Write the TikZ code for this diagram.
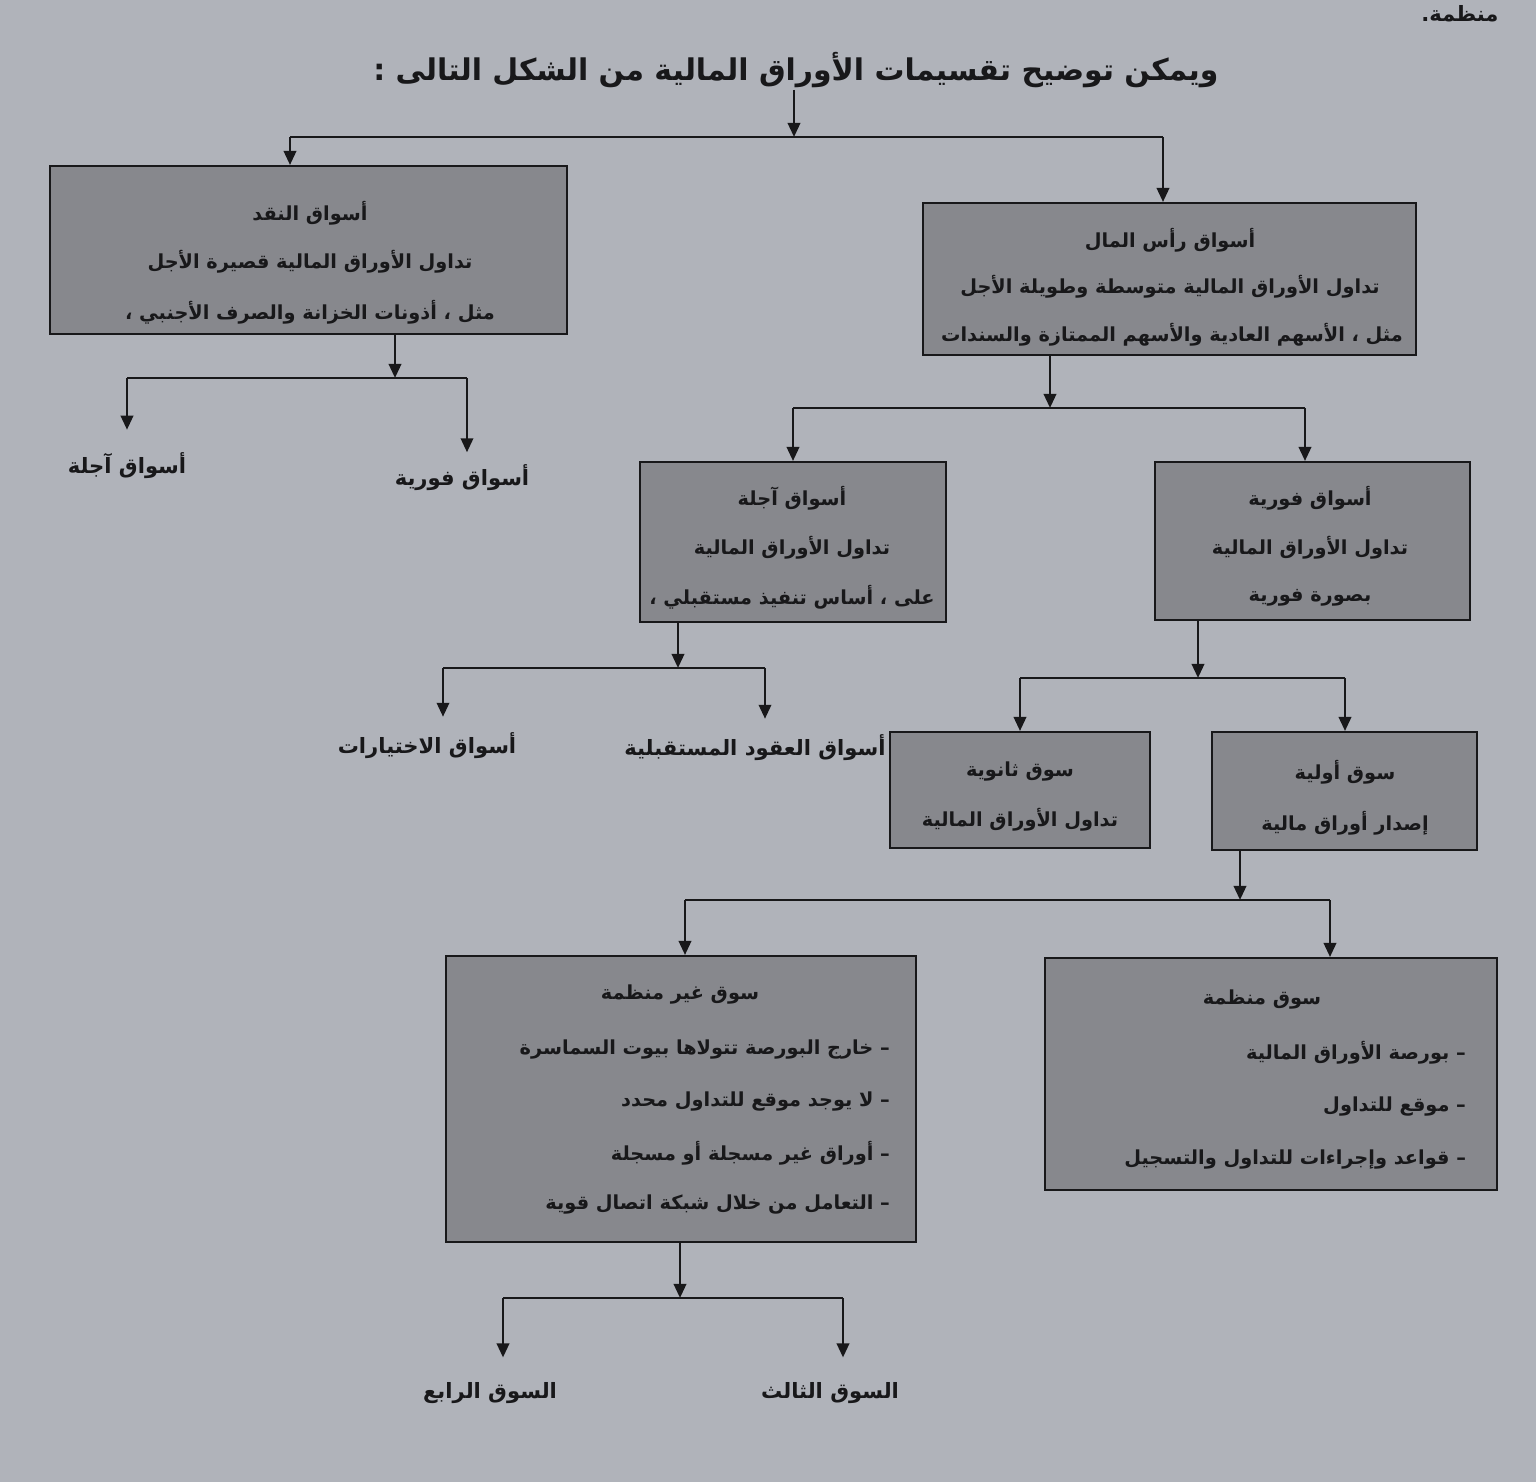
\documentclass[tikz,border=0pt]{standalone}
\usepackage{fontspec}
\usetikzlibrary{arrows.meta,fit}
\TeXXeTstate=1
\newfontfamily\arabicfont[Script=Arabic]{DejaVu Sans}
\newcommand{\rl}[1]{\beginR #1\endR}
\definecolor{pagebg}{RGB}{176,179,186}
\definecolor{boxgrey}{RGB}{135,136,141}
\definecolor{ink}{RGB}{24,24,26}
\begin{document}
\begin{tikzpicture}[x=0.02cm,y=-0.02cm,
  box/.style={draw=ink, line width=1.1pt, fill=boxgrey, inner sep=0pt},
  conn/.style={draw=ink, line width=1.5pt},
  arr/.style={conn, -{Triangle[length=8pt,width=7pt]}},
  txt/.style={font=\arabicfont\bfseries\fontsize{11}{13}\selectfont, text=ink, inner sep=1pt},
  lbl/.style={font=\arabicfont\bfseries\fontsize{12}{14}\selectfont, text=ink, inner sep=1pt},
  ttl/.style={font=\arabicfont\bfseries\fontsize{17}{20}\selectfont, text=ink, inner sep=1pt}]
\fill[pagebg] (0,0) rectangle (1536,1482);
\useasboundingbox (0,0) rectangle (1536,1482);

% stray text at top
\node[lbl] (prev) at (1460,14) {\rl{منظمة.}};
% title
\node[ttl] (title) at (796,70) {\rl{ويمكن توضيح تقسيمات الأوراق المالية من الشكل التالى :}};

% boxes
\node[box, fit={(50,166) (567,334)}] (money) {};
\node[box, fit={(923,203) (1416,355)}] (capital) {};
\node[box, fit={(640,462) (946,622)}] (fut) {};
\node[box, fit={(1155,462) (1470,620)}] (spot) {};
\node[box, fit={(890,732) (1150,848)}] (second) {};
\node[box, fit={(1212,732) (1477,850)}] (primary) {};
\node[box, fit={(446,956) (916,1242)}] (unorg) {};
\node[box, fit={(1045,958) (1497,1190)}] (org) {};

% box texts
\node[txt] (m1) at (310,213) {\rl{أسواق النقد}};
\node[txt] (m2) at (310,262) {\rl{تداول الأوراق المالية قصيرة الأجل}};
\node[txt] (m3) at (310,312) {\rl{مثل ، أذونات الخزانة والصرف الأجنبي ،}};

\node[txt] (c1) at (1170,240) {\rl{أسواق رأس المال}};
\node[txt] (c2) at (1170,287) {\rl{تداول الأوراق المالية متوسطة وطويلة الأجل}};
\node[txt] (c3) at (1172,335) {\rl{مثل ، الأسهم العادية والأسهم الممتازة والسندات}};

\node[txt] (f1) at (792,498) {\rl{أسواق آجلة}};
\node[txt] (f2) at (792,548) {\rl{تداول الأوراق المالية}};
\node[txt] (f3) at (792,597) {\rl{على ، أساس تنفيذ مستقبلي ،}};

\node[txt] (s1) at (1310,498) {\rl{أسواق فورية}};
\node[txt] (s2) at (1310,548) {\rl{تداول الأوراق المالية}};
\node[txt] (s3) at (1310,598) {\rl{بصورة فورية}};

\node[txt] (se1) at (1020,772) {\rl{سوق ثانوية}};
\node[txt] (se2) at (1020,820) {\rl{تداول الأوراق المالية}};

\node[txt] (p1) at (1345,772) {\rl{سوق أولية}};
\node[txt] (p2) at (1345,823) {\rl{إصدار أوراق مالية}};

\node[txt] (o0) at (1262,1000) {\rl{سوق منظمة}};
\node[txt, anchor=east] (o1) at (1468,1053) {\rl{– بورصة الأوراق المالية}};
\node[txt, anchor=east] (o2) at (1468,1107) {\rl{– موقع للتداول}};
\node[txt, anchor=east] (o3) at (1468,1160) {\rl{– قواعد وإجراءات للتداول والتسجيل}};

\node[txt] (u0) at (680,995) {\rl{سوق غير منظمة}};
\node[txt, anchor=east] (u1) at (892,1050) {\rl{– خارج البورصة تتولاها بيوت السماسرة}};
\node[txt, anchor=east] (u2) at (892,1102) {\rl{– لا يوجد موقع للتداول محدد}};
\node[txt, anchor=east] (u3) at (892,1153) {\rl{– أوراق غير مسجلة أو مسجلة}};
\node[txt, anchor=east] (u4) at (892,1205) {\rl{– التعامل من خلال شبكة اتصال قوية}};

% leaf labels
\node[lbl] (mfut) at (127,466) {\rl{أسواق آجلة}};
\node[lbl] (mspot) at (462,478) {\rl{أسواق فورية}};
\node[lbl] (opt) at (427,746) {\rl{أسواق الاختيارات}};
\node[lbl] (futc) at (755,748) {\rl{أسواق العقود المستقبلية}};
\node[lbl] (fourth) at (490,1393) {\rl{السوق الرابع}};
\node[lbl] (third) at (830,1393) {\rl{السوق الثالث}};

% junction coordinates
\coordinate (j0) at (794,137);
\coordinate (j0l) at (290,137);
\coordinate (j0r) at (1163,137);
\coordinate (j1) at (395,378);
\coordinate (j1l) at (127,378);
\coordinate (j1r) at (467,378);
\coordinate (j2) at (1050,408);
\coordinate (j2l) at (793,408);
\coordinate (j2r) at (1305,408);
\coordinate (j3) at (678,668);
\coordinate (j3l) at (443,668);
\coordinate (j3r) at (765,668);
\coordinate (j4) at (1198,678);
\coordinate (j4l) at (1020,678);
\coordinate (j4r) at (1345,678);
\coordinate (j5) at (1240,900);
\coordinate (j5l) at (685,900);
\coordinate (j5r) at (1330,900);
\coordinate (j6) at (680,1298);
\coordinate (j6l) at (503,1298);
\coordinate (j6r) at (843,1298);

% connectors
\draw[arr] (title.south -| j0) -- (j0);
\draw[conn] (j0l) -- (j0r);
\draw[arr] (j0l) -- (j0l |- money.north);
\draw[arr] (j0r) -- (j0r |- capital.north);

\draw[arr] (money.south -| j1) -- (j1);
\draw[conn] (j1l) -- (j1r);
\draw[arr] (j1l) -- ([yshift=12pt]mfut.north -| j1l);
\draw[arr] (j1r) -- ([yshift=6pt]mspot.north -| j1r);

\draw[arr] (capital.south -| j2) -- (j2);
\draw[conn] (j2l) -- (j2r);
\draw[arr] (j2l) -- (j2l |- fut.north);
\draw[arr] (j2r) -- (j2r |- spot.north);

\draw[arr] (fut.south -| j3) -- (j3);
\draw[conn] (j3l) -- (j3r);
\draw[arr] (j3l) -- ([yshift=8pt]opt.north -| j3l);
\draw[arr] (j3r) -- ([yshift=8pt]futc.north -| j3r);

\draw[arr] (spot.south -| j4) -- (j4);
\draw[conn] (j4l) -- (j4r);
\draw[arr] (j4l) -- (j4l |- second.north);
\draw[arr] (j4r) -- (j4r |- primary.north);

\draw[arr] (primary.south -| j5) -- (j5);
\draw[conn] (j5l) -- (j5r);
\draw[arr] (j5l) -- (j5l |- unorg.north);
\draw[arr] (j5r) -- (j5r |- org.north);

\draw[arr] (unorg.south -| j6) -- (j6);
\draw[conn] (j6l) -- (j6r);
\draw[arr] (j6l) -- ([yshift=13pt]fourth.north -| j6l);
\draw[arr] (j6r) -- ([yshift=13pt]third.north -| j6r);
\end{tikzpicture}
\end{document}
